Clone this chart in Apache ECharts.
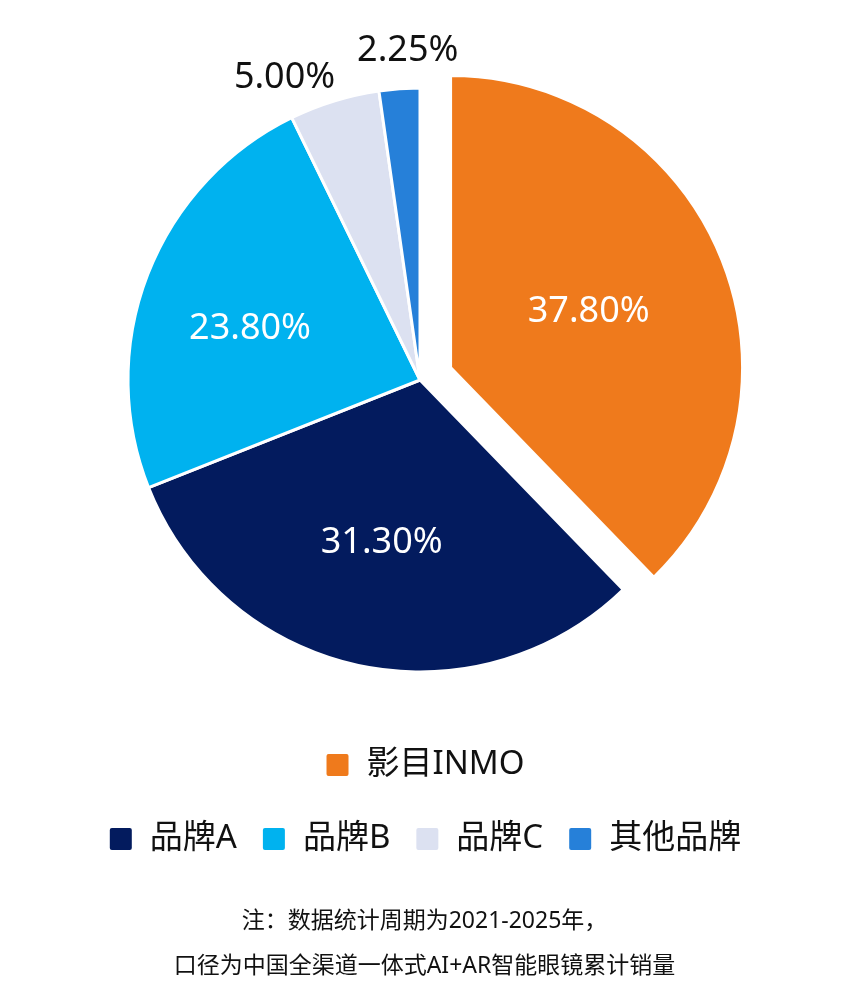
<!DOCTYPE html>
<html>
<head>
<meta charset="utf-8">
<title>累计销量份额</title>
<script src="https://cdn.jsdelivr.net/npm/echarts@6/dist/echarts.min.js"></script>
<style>
  html, body { margin: 0; padding: 0; background: #fff; }
  #main { width: 849px; height: 1000px; }
</style>
</head>
<body>
<div id="main"></div>
<script>
// 数据
var brands = ['影目INMO', '品牌A', '品牌B', '品牌C', '其他品牌'];
var shares = [37.8, 31.3, 23.8, 5.0, 2.25];
var colors = ['#EF7A1C', '#031B5E', '#00B2EF', '#DCE1F1', '#2680D9'];
var insideLabel = [true, true, true, false, false];
var noteLines = ['注：数据统计周期为2021-2025年，', '口径为中国全渠道一体式AI+AR智能眼镜累计销量'];

var FONT = '"Noto Sans", "Noto Sans CJK SC", sans-serif';
var SQUARE = 'path://M3,0H21Q24,0 24,3V21Q24,24 21,24H3Q0,24 0,21V3Q0,0 3,0Z';

var pieData = brands.map(function (name, i) {
    var item = {
        name: name,
        value: shares[i],
        itemStyle: { color: colors[i] }
    };
    if (i === 0) item.selected = true;
    if (insideLabel[i]) {
        item.label = { position: 'inside', color: '#fff' };
    } else {
        item.label = { position: 'outside', color: '#111' };
    }
    return item;
});

// 标签微调
var labelShift = [
    { dx: 0, dy: 0 },
    { dx: -7, dy: 17 },
    { dx: -31, dy: 3 },
    { dx: 13, dy: 0 },
    { dx: 15, dy: -14, align: 'center' }
];

var legendText = {
    fontFamily: FONT,
    fontSize: 33,
    color: '#111',
    lineHeight: 40,
    padding: [0, 0, 0, 12]
};

var myChart = echarts.init(document.getElementById('main'));

var option = {
    backgroundColor: '#fff',
    animation: false,
    textStyle: { fontFamily: FONT },
    title: noteLines.map(function (t, i) {
        return {
            text: t,
            left: 'center',
            top: 906 + i * 45,
            padding: 0,
            textStyle: {
                fontFamily: FONT,
                fontSize: 23,
                fontWeight: 'normal',
                color: '#111',
                lineHeight: 30
            }
        };
    }),
    legend: [{
        data: [brands[0]],
        left: 'center',
        top: 740,
        icon: SQUARE,
        itemWidth: 24,
        itemHeight: 24,
        selectedMode: false,
        textStyle: legendText
    }, {
        data: brands.slice(1),
        left: 'center',
        top: 814,
        icon: SQUARE,
        itemWidth: 24,
        itemHeight: 24,
        itemGap: 24,
        selectedMode: false,
        textStyle: legendText
    }],
    series: [{
        type: 'pie',
        center: [420, 380],
        radius: [0, 292],
        startAngle: 90,
        clockwise: true,
        selectedMode: 'single',
        selectedOffset: 33,
        avoidLabelOverlap: false,
        itemStyle: {
            borderColor: '#fff',
            borderWidth: 3
        },
        label: {
            show: true,
            fontFamily: FONT,
            fontSize: 36,
            formatter: function (p) {
                return p.value.toFixed(2) + '%';
            }
        },
        labelLine: { show: false, length: 24, length2: 0 },
        labelLayout: function (p) {
            return labelShift[p.dataIndex];
        },
        emphasis: { disabled: true },
        data: pieData
    }]
};

myChart.setOption(option);
</script>
</body>
</html>
